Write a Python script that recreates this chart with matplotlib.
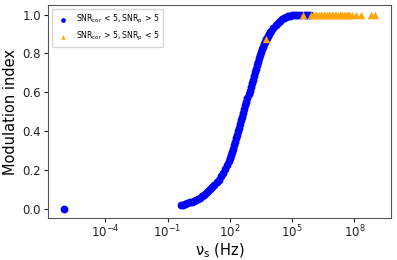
import numpy as np
import matplotlib
matplotlib.use("Agg")
import matplotlib.pyplot as plt

plt.rcParams['mathtext.default'] = 'regular'

# Blue series: SNR_cor < 5, SNR_p > 5  (log10 frequency, modulation index)
blue_logf = [-6.0,
    -0.34, -0.24, -0.14, -0.04, 0.06, 0.16, 0.26, 0.36, 0.46, 0.56, 0.66, 0.76,
    0.86, 0.96, 1.06, 1.16, 1.26, 1.36, 1.46, 1.56, 1.66, 1.76, 1.86, 1.95,
    2.00, 2.05, 2.10, 2.15, 2.20, 2.25, 2.30, 2.35, 2.40, 2.45, 2.50, 2.55,
    2.60, 2.65, 2.70, 2.75, 2.80, 2.85, 2.90, 2.95, 3.00, 3.05, 3.10, 3.15,
    3.20, 3.25, 3.30, 3.35, 3.40, 3.45, 3.50, 3.55, 3.60, 3.65, 3.70, 3.75,
    3.80, 3.85, 3.90, 3.95, 4.00, 4.10, 4.20, 4.30, 4.40, 4.50, 4.60, 4.70,
    4.80, 4.90, 5.00, 5.10, 5.20, 5.30, 5.45, 5.60, 5.72, 5.84]
blue_mi = [0.0,
    0.018, 0.021, 0.024, 0.028, 0.032, 0.036, 0.041, 0.046, 0.050, 0.057, 0.064, 0.072,
    0.080, 0.089, 0.099, 0.110, 0.122, 0.135, 0.150, 0.166, 0.184, 0.204, 0.226, 0.248,
    0.262, 0.277, 0.293, 0.310, 0.327, 0.345, 0.363, 0.381, 0.399, 0.418, 0.437, 0.456,
    0.475, 0.494, 0.513, 0.532, 0.551, 0.570, 0.589, 0.608, 0.627, 0.646, 0.665, 0.684,
    0.702, 0.721, 0.740, 0.758, 0.775, 0.791, 0.806, 0.821, 0.835, 0.848, 0.860, 0.872,
    0.882, 0.892, 0.901, 0.910, 0.918, 0.933, 0.946, 0.957, 0.967, 0.975, 0.982, 0.987,
    0.991, 0.994, 0.996, 0.998, 0.999, 1.0, 1.0, 1.0, 1.0, 1.0]

# Orange series: SNR_cor > 5, SNR_p < 5
orange_logf = [3.74, 5.51, 5.92, 6.00, 6.08, 6.15, 6.22, 6.30, 6.38, 6.45, 6.52,
               6.60, 6.68, 6.75, 6.82, 6.90, 6.98, 7.05, 7.12, 7.20, 7.28, 7.35,
               7.42, 7.50, 7.58, 7.65, 7.70, 7.76, 7.90, 8.08, 8.32, 8.80, 9.01]
orange_mi = [0.876, 1.0, 1.0, 1.0, 1.0, 1.0, 1.0, 1.0, 1.0, 1.0, 1.0,
             1.0, 1.0, 1.0, 1.0, 1.0, 1.0, 1.0, 1.0, 1.0, 1.0, 1.0,
             1.0, 1.0, 1.0, 1.0, 1.0, 1.0, 1.0, 1.0, 1.0, 1.0, 1.0]

blue_label = r'SNR$_{cor}$ < 5, SNR$_p$ > 5'
orange_label = r'SNR$_{cor}$ > 5, SNR$_p$ < 5'
xticks = [1e-4, 1e-1, 1e2, 1e5, 1e8]

blue_f = np.power(10.0, blue_logf)
orange_f = np.power(10.0, orange_logf)

fig = plt.figure(figsize=(3.97, 2.60), dpi=100)
ax = fig.add_axes([0.121, 0.160, 0.864, 0.821])
ax.scatter(blue_f, blue_mi, s=32, marker='o', color='blue', linewidths=0,
           label=blue_label, zorder=2)
ax.scatter(orange_f, orange_mi, s=28, marker='^', color='orange', linewidths=0,
           label=orange_label, zorder=3)
ax.set_xscale('log')
ax.set_xticks(xticks)
ax.xaxis.set_minor_locator(matplotlib.ticker.NullLocator())
ax.set_yticks([0.0, 0.2, 0.4, 0.6, 0.8, 1.0])
ax.tick_params(labelsize=8.5, length=3, width=0.8, colors='#222222')
ax.tick_params(axis='x', pad=0.5)
ax.tick_params(axis='y', pad=2)
ax.set_xlabel(r'$\nu_{s}$ (Hz)', fontsize=10.5, labelpad=1)
ax.set_ylabel('Modulation index', fontsize=10.5, labelpad=3)
ax.legend(loc='upper left', fontsize=5.6, framealpha=0.8, markerscale=0.6,
          labelspacing=0.5, borderpad=0.55, handletextpad=0.7, handlelength=1.8)
for sp in ax.spines.values():
    sp.set_color('#555555')
fig.savefig('out.png', dpi=100)
